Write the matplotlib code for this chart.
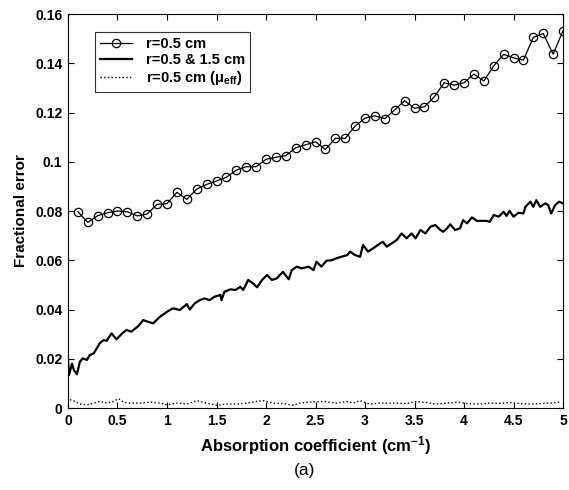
import matplotlib
matplotlib.use("Agg")
import matplotlib.pyplot as plt
import numpy as np

plt.rcParams['font.family'] = ['Liberation Sans', 'DejaVu Sans']
plt.rcParams['mathtext.fontset'] = 'custom'
plt.rcParams['mathtext.rm'] = 'Liberation Sans:bold'
plt.rcParams['mathtext.it'] = 'Liberation Sans:bold'
plt.rcParams['mathtext.bf'] = 'Liberation Sans:bold'

# r=0.5 cm (circles), x = 0.1 ... 5.0
x_circ = [round(0.1 * (i + 1), 1) for i in range(50)]
y_circ = [0.0797, 0.0754, 0.0781, 0.0793, 0.0800, 0.0797, 0.0780, 0.0788, 0.0827, 0.0830,
          0.0876, 0.0847, 0.0889, 0.0908, 0.0922, 0.0937, 0.0966, 0.0980, 0.0980, 0.1010,
          0.1018, 0.1025, 0.1057, 0.1069, 0.1081, 0.1050, 0.1095, 0.1095, 0.1145, 0.1177,
          0.1187, 0.1175, 0.1211, 0.1248, 0.1217, 0.1223, 0.1264, 0.1321, 0.1311, 0.1321,
          0.1356, 0.1328, 0.1389, 0.1436, 0.1422, 0.1413, 0.1505, 0.1521, 0.1437, 0.1532]

# r=0.5 & 1.5 cm (solid)
x_both = [0.00, 0.01, 0.04, 0.06, 0.09, 0.12, 0.15, 0.19, 0.22, 0.26, 0.29, 0.32, 0.36, 0.39,
          0.44, 0.49, 0.54, 0.59, 0.64, 0.71, 0.76, 0.81, 0.86, 0.93, 1.00, 1.06, 1.13, 1.20,
          1.23, 1.28, 1.33, 1.38, 1.43, 1.48, 1.54, 1.55, 1.58, 1.64, 1.69, 1.74, 1.77, 1.82,
          1.87, 1.91, 1.96, 2.01, 2.06, 2.11, 2.17, 2.23, 2.26, 2.31, 2.36, 2.43, 2.48, 2.51,
          2.56, 2.61, 2.66, 2.71, 2.76, 2.82, 2.85, 2.90, 2.95, 2.98, 3.03, 3.08, 3.13, 3.18,
          3.22, 3.27, 3.32, 3.37, 3.42, 3.47, 3.51, 3.56, 3.61, 3.66, 3.71, 3.76, 3.79, 3.83,
          3.86, 3.91, 3.96, 3.99, 4.03, 4.08, 4.13, 4.18, 4.23, 4.26, 4.30, 4.35, 4.40, 4.43,
          4.46, 4.50, 4.55, 4.60, 4.62, 4.67, 4.70, 4.73, 4.77, 4.82, 4.85, 4.88, 4.92, 4.96,
          5.00]
y_both = [0.0195, 0.0134, 0.0180, 0.0154, 0.0137, 0.0188, 0.0202, 0.0195, 0.0215, 0.0222,
          0.0242, 0.0263, 0.0276, 0.0273, 0.0303, 0.0279, 0.0300, 0.0317, 0.0310, 0.0333,
          0.0357, 0.0350, 0.0344, 0.0371, 0.0391, 0.0405, 0.0398, 0.0422, 0.0400, 0.0425,
          0.0438, 0.0445, 0.0438, 0.0452, 0.0459, 0.0438, 0.0472, 0.0482, 0.0479, 0.0492,
          0.0479, 0.0520, 0.0506, 0.0490, 0.0520, 0.0540, 0.0520, 0.0527, 0.0553, 0.0523,
          0.0560, 0.0574, 0.0567, 0.0574, 0.0560, 0.0594, 0.0574, 0.0598, 0.0600, 0.0608,
          0.0614, 0.0621, 0.0635, 0.0621, 0.0614, 0.0662, 0.0635, 0.0648, 0.0662, 0.0675,
          0.0655, 0.0669, 0.0682, 0.0709, 0.0689, 0.0709, 0.0689, 0.0723, 0.0709, 0.0736,
          0.0743, 0.0723, 0.0716, 0.0730, 0.0746, 0.0723, 0.0730, 0.0763, 0.0750, 0.0774,
          0.0760, 0.0760, 0.0760, 0.0756, 0.0784, 0.0777, 0.0797, 0.0780, 0.0801, 0.0777,
          0.0793, 0.0790, 0.0817, 0.0838, 0.0817, 0.0844, 0.0817, 0.0831, 0.0824, 0.0790,
          0.0824, 0.0838, 0.0831]

# r=0.5 cm (mu_eff), dotted
x_eff = [0.02, 0.07, 0.12, 0.19, 0.26, 0.32, 0.39, 0.46, 0.51, 0.56, 0.63, 0.73, 0.83, 0.93,
         1.00, 1.10, 1.20, 1.30, 1.40, 1.50, 1.60, 1.70, 1.81, 1.91, 1.97, 2.07, 2.17, 2.28,
         2.34, 2.44, 2.58, 2.71, 2.82, 2.88, 2.95, 3.05, 3.15, 3.29, 3.42, 3.52, 3.62, 3.72,
         3.83, 3.93, 4.03, 4.16, 4.26, 4.36, 4.46, 4.57, 4.67, 4.77, 4.87, 4.97]
y_eff = [0.0034, 0.0027, 0.0016, 0.0013, 0.0020, 0.0027, 0.0020, 0.0027, 0.0038, 0.0024,
         0.0020, 0.0020, 0.0024, 0.0020, 0.0013, 0.0020, 0.0016, 0.0030, 0.0020, 0.0011,
         0.0016, 0.0016, 0.0020, 0.0027, 0.0030, 0.0020, 0.0018, 0.0011, 0.0020, 0.0024,
         0.0027, 0.0020, 0.0027, 0.0020, 0.0030, 0.0016, 0.0020, 0.0020, 0.0018, 0.0027,
         0.0022, 0.0016, 0.0020, 0.0024, 0.0018, 0.0016, 0.0020, 0.0019, 0.0022, 0.0018,
         0.0016, 0.0018, 0.0020, 0.0024]

fig = plt.figure(figsize=(5.69, 4.90), dpi=100)
ax = fig.add_axes([0.1195, 0.1673, 0.8700, 0.8041])

ax.plot(x_circ, y_circ, '-', color='black', lw=0.9, marker='o', ms=6,
        mfc='none', mec='black', mew=0.9, label='r=0.5 cm')
ax.plot(x_both, y_both, '-', color='black', lw=1.6, label='r=0.5 & 1.5 cm')
ax.plot(x_eff, y_eff, ':', color='black', lw=1.0, label=r'r=0.5 cm ($\mu_{eff}$)')

ax.set_xlim(0, 5)
ax.set_ylim(0, 0.16)
ax.set_xticks(np.arange(0, 5.01, 0.5))
ax.set_xticklabels(['0', '0.5', '1', '1.5', '2', '2.5', '3', '3.5', '4', '4.5', '5'])
ax.set_yticks(np.arange(0, 0.161, 0.02))
ax.set_yticklabels(['0', '0.02', '0.04', '0.06', '0.08', '0.1', '0.12', '0.14', '0.16'])
ax.tick_params(direction='in', top=True, right=True, length=4, labelsize=10, pad=4)
for lab in ax.get_xticklabels() + ax.get_yticklabels():
    lab.set_fontweight('bold')

ax.set_xlabel(r'Absorption coefficient (cm$^{-1}$)', fontsize=12, fontweight='bold', labelpad=5)
ax.set_ylabel('Fractional error', fontsize=11, fontweight='bold', labelpad=5)

leg = ax.legend(loc='upper left', bbox_to_anchor=(0.055, 0.955), borderaxespad=0,
                frameon=True, fancybox=False, edgecolor='black',
                prop={'weight': 'bold', 'size': 10.5}, handlelength=2.2,
                borderpad=0.35, labelspacing=0.15, handletextpad=0.9)
leg.get_frame().set_linewidth(0.8)

fig.text(0.535, 0.03, '(a)', ha='center', fontsize=12.5)

fig.savefig('out.png', dpi=100)
